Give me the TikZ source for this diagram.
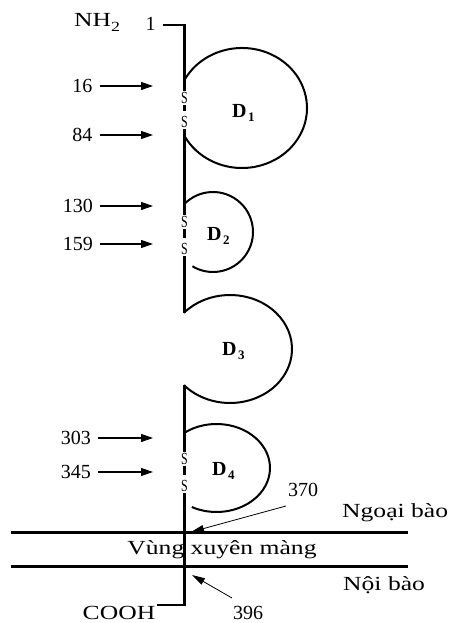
\documentclass[tikz,border=0pt]{standalone}
\usepackage{fontspec}
\setmainfont{Liberation Serif}
\usepackage{graphicx}
\usetikzlibrary{arrows.meta}
\newcommand\wtxt[1]{\scalebox{1.28}[1]{#1}}
\newcommand\stxt{\scalebox{0.7}[1]{S}}
\newcommand\dlab[1]{\textbf{D}\hspace{1.5pt}\raisebox{-4pt}{\fontsize{13}{13}\selectfont\bfseries #1}}
\begin{document}
\begin{tikzpicture}[x=1pt,y=1pt,
  backbone/.style={line width=2.4pt},
  dloop/.style={line width=2pt},
  membrane/.style={line width=3pt},
  numarrow/.style={line width=1.1pt,-{Triangle[length=12pt,width=8pt]},shorten <=7pt},
  ptr/.style={line width=0.8pt,-{Triangle[length=13pt,width=7pt]}},
  lbl/.style={font=\fontsize{20}{24}\selectfont,inner sep=0pt},
  num/.style={lbl,anchor=east},
  ss/.style={font=\fontsize{17}{17}\selectfont,inner sep=1pt},
  dl/.style={font=\fontsize{20}{20}\selectfont,inner sep=0pt,anchor=base west}]
\useasboundingbox (0,0) rectangle (448,623);

% top / bottom labels
\node[lbl,anchor=base west] (nh2) at (74,596) {\wtxt{NH\raisebox{-5pt}{\fontsize{14}{14}\selectfont 2}}};
\node[lbl,anchor=base] (one) at (150.5,592) {1};
\node[lbl] (cooh) at (119,10) {\wtxt{COOH}};

% S nodes
\node[ss] (s1) at (184.5,525) {\stxt};
\node[ss] (s2) at (184.5,501) {\stxt};
\node[ss] (s3) at (184.5,401) {\stxt};
\node[ss] (s4) at (184.5,374) {\stxt};
\node[ss] (s5) at (184.5,164) {\stxt};
\node[ss] (s6) at (184.5,137) {\stxt};

\coordinate (top) at (163,598);
\coordinate (topc) at (184.5,598);
\coordinate (d3t) at (184.5,310);
\coordinate (d3b) at (184.5,238);
\coordinate (botc) at (184.5,18);
\coordinate (bot) at (157,18);

% backbone
\draw[backbone] (top) -- (topc) -- (s1);
\draw[backbone,shorten >=4pt] (s1) -- (s2);
\draw[backbone] (s2) -- (s3);
\draw[backbone,shorten >=4pt] (s3) -- (s4);
\draw[backbone] (s4) -- (d3t);
\draw[backbone] (d3b) -- (s5);
\draw[backbone,shorten >=4pt] (s5) -- (s6);
\draw[backbone] (s6) -- (botc) -- (bot);

% domains
\draw[dloop] (242,515) ++(152:65 and 60) arc[start angle=152,end angle=-152,x radius=65,y radius=60];
\draw[dloop] (213,391) ++(137:40) arc[start angle=137,end angle=-121,radius=40];
\draw[dloop] (230,274) ++(138:62 and 54) arc[start angle=138,end angle=-138,x radius=62,y radius=54];
\draw[dloop] (216.5,155) ++(127.5:53.5 and 44) arc[start angle=127.5,end angle=-117.5,x radius=53.5,y radius=44];

\node[dl] (D1) at (232,505) {\dlab{1}};
\node[dl] (D2) at (207,382) {\dlab{2}};
\node[dl] (D3) at (222,267) {\dlab{3}};
\node[dl] (D4) at (212,147) {\dlab{4}};

% residue arrows
\node[num] (n16) at (92.5,537) {16};
\node[num] (n84) at (92.5,488) {84};
\node[num] (n130) at (93,417) {130};
\node[num] (n159) at (93,379) {159};
\node[num] (n303) at (91,185) {303};
\node[num] (n345) at (91,151) {345};
\coordinate (a16) at (153,537);
\coordinate (a84) at (153,488);
\coordinate (a130) at (153,417);
\coordinate (a159) at (153,379);
\coordinate (a303) at (153,185);
\coordinate (a345) at (153,151);
\draw[numarrow] (n16) -- (a16);
\draw[numarrow] (n84) -- (a84);
\draw[numarrow] (n130) -- (a130);
\draw[numarrow] (n159) -- (a159);
\draw[numarrow] (n303) -- (a303);
\draw[numarrow] (n345) -- (a345);

% membrane
\coordinate (m1l) at (11,90);
\coordinate (m1r) at (408,90);
\coordinate (m2l) at (11,56);
\coordinate (m2r) at (408,56);
\draw[membrane] (m1l) -- (m1r);
\draw[membrane] (m2l) -- (m2r);
\node[lbl,anchor=base] (vxm) at (222,68) {\wtxt{Vùng xuyên màng}};
\node[lbl,anchor=base west] (ngoai) at (342,105) {\wtxt{Ngoại bào}};
\node[lbl,anchor=base west] (noi) at (343,32) {\wtxt{Nội bào}};

% 370 / 396 pointers
\node[lbl] (n370) at (303,133) {370};
\node[lbl] (n396) at (248,10.5) {396};
\coordinate (q370) at (286,117);
\coordinate (p370) at (191,91);
\coordinate (q396) at (232,25);
\coordinate (p396) at (192,48);
\draw[ptr] (q370) -- (p370);
\draw[ptr] (q396) -- (p396);
\end{tikzpicture}
\end{document}
